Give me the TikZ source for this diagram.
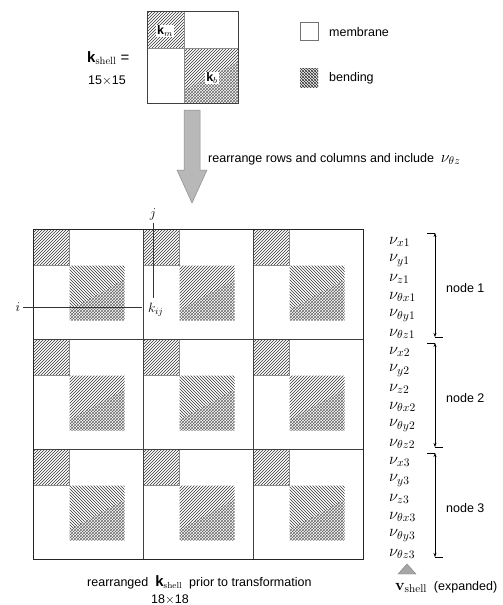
\documentclass[tikz,border=0pt]{standalone}
\usepackage{fix-cm}
\usepackage[no-math]{fontspec}
\setmainfont{Liberation Sans}
\usetikzlibrary{patterns,arrows.meta}
\begin{document}
\begin{tikzpicture}[x=1pt,y=-1pt,
  lab/.style={font=\fontsize{12.5}{14}\selectfont, inner sep=0pt},
  mlab/.style={font=\fontsize{13.5}{15}\selectfont, inner sep=0pt},
  vlab/.style={font=\fontsize{16.5}{18}\selectfont, inner sep=0pt},
  memb/.style={pattern=north east lines, pattern color=black!80},
  xhatch/.style={pattern=crosshatch, pattern color=black!60},
  nwl/.style={pattern=north west lines, pattern color=black!80},
  nel/.style={pattern=north east lines, pattern color=black!80},
  grid/.style={draw=black!75, line width=0.7pt},
  subline/.style={draw=black!45, line width=0.4pt},
  dimarrow/.style={{Stealth[length=4pt,width=3pt]}-{Stealth[length=4pt,width=3pt]}, line width=0.5pt},
  tick/.style={line width=0.5pt}
]
\useasboundingbox (0,0) rectangle (503,605);

% ---------- top 15x15 matrix ----------
\fill[memb] (147,11) rectangle (184,48);
\fill[nel] (184,48) -- (238,48) -- (238,62) -- (184,90) -- cycle;
\fill[xhatch] (238,62) -- (238,103) -- (184,103) -- (184,90) -- cycle;
\draw[subline] (147,48) -- (238,48);
\draw[subline] (184,11) -- (184,103);
\draw[grid, line width=0.9pt] (147,11) rectangle (238,103);
\node[lab, fill=white, inner sep=0.8pt] (km) at (165,31) {\textbf{k}$_m$};
\node[lab, fill=white, inner sep=0.8pt] (kb) at (212,78) {\textbf{k}$_b$};
\node[lab, anchor=west] (kshell) at (87,58) {\fontsize{15}{16}\selectfont\textbf{k}$_{\mathrm{shell}}$ =};
\node[lab, anchor=west] (dim1) at (88,81) {15$\times$15};

% ---------- legend ----------
\draw[draw=black!55, line width=0.5pt] (300,22) rectangle (318,40);
\node[lab, anchor=west] (lmem) at (329,32) {membrane};
\fill[xhatch] (300,68) rectangle (318,87);
\fill[nwl] (300,68) rectangle (318,87);
\node[lab, anchor=west] (lbend) at (329,78) {bending};

% ---------- big arrow ----------
\filldraw[fill=black!28, draw=black!45, line width=0.5pt]
  (184,110) -- (200,110) -- (200,170) -- (207,170) -- (192,203) -- (177,170) -- (184,170) -- cycle;
\node[lab, anchor=west] (rearr) at (208,159) {rearrange rows and columns and include \ {\fontsize{16}{18}\selectfont$\nu_{\theta z}$}};

% ---------- big 18x18 matrix ----------
\foreach \r in {0,1,2}{
  \foreach \c in {0,1,2}{
    \pgfmathsetmacro{\ox}{33+\c*110}
    \pgfmathsetmacro{\oy}{229+\r*110}
    \pgfmathsetmacro{\ax}{\ox+36.67}
    \pgfmathsetmacro{\ay}{\oy+36.67}
    \pgfmathsetmacro{\bx}{\ox+91.67}
    \pgfmathsetmacro{\by}{\oy+91.67}
    \pgfmathsetmacro{\ry}{\ay+14}
    \pgfmathsetmacro{\ly}{\ay+44}
    \pgfmathtruncatemacro{\pty}{mod(\r+\c,2)}
    \fill[memb] (\ox,\oy) rectangle (\ax,\ay);
    \draw[subline] (\ox,\ay) -- (\ax,\ay) -- (\ax,\oy);
    \fill[xhatch] (\bx,\ry) -- (\bx,\by) -- (\ax,\by) -- (\ax,\ly) -- cycle;
    \ifnum\pty=0
      \fill[nwl] (\ax,\ay) -- (\bx,\ay) -- (\bx,\ry) -- (\ax,\ly) -- cycle;
    \else
      \fill[nel] (\ax,\ay) -- (\bx,\ay) -- (\bx,\ry) -- (\ax,\ly) -- cycle;
    \fi
  }
}
\draw[grid] (143,229) -- (143,559);
\draw[grid] (253,229) -- (253,559);
\draw[grid] (33,339) -- (363,339);
\draw[grid] (33,449) -- (363,449);
\draw[draw=black!85, line width=1pt] (33,229) rectangle (363,559);

% i, j, k_ij
\node[mlab] (i) at (18,307) {$i$};
\node[mlab] (j) at (153,214) {$j$};
\node[mlab, anchor=west] (kij) at (148,310) {$k_{ij}$};
\draw[line width=0.6pt, black!80] (i.east) ++(3,0) -- (142,307);
\draw[line width=0.6pt, black!80] (j.south) ++(0,3) -- (153,298);

% ---------- displacement vector labels ----------
\foreach \n in {1,2,3}{
  \pgfmathsetmacro{\base}{229+(\n-1)*110}
  \pgfmathsetmacro{\ya}{\base+9.17+4}
  \pgfmathsetmacro{\yb}{\base+27.5+4}
  \pgfmathsetmacro{\yc}{\base+45.83+4}
  \pgfmathsetmacro{\yd}{\base+64.17+4}
  \pgfmathsetmacro{\ye}{\base+82.5+4}
  \pgfmathsetmacro{\yf}{\base+100.83+4}
  \node[vlab, anchor=west] (vx\n) at (389,\ya) {$\nu_{x\n}$};
  \node[vlab, anchor=west] (vy\n) at (389,\yb) {$\nu_{y\n}$};
  \node[vlab, anchor=west] (vz\n) at (389,\yc) {$\nu_{z\n}$};
  \node[vlab, anchor=west] (vtx\n) at (389,\yd) {$\nu_{\theta x\n}$};
  \node[vlab, anchor=west] (vty\n) at (389,\ye) {$\nu_{\theta y\n}$};
  \node[vlab, anchor=west] (vtz\n) at (389,\yf) {$\nu_{\theta z\n}$};
  \pgfmathsetmacro{\yt}{\base+4}
  \pgfmathsetmacro{\ybt}{\base+108}
  \pgfmathsetmacro{\ym}{\base+59}
  \coordinate (top\n) at (435,\yt);
  \coordinate (bot\n) at (435,\ybt);
  \draw[dimarrow] (top\n) -- (bot\n);
  \draw[tick] (top\n) -- ++(-8,0);
  \draw[tick] (bot\n) -- ++(8,0);
  \node[lab, anchor=west] (node\n) at (446,\ym) {node \n};
}

% v_shell
\filldraw[fill=black!35, draw=black!50, line width=0.4pt] (398,574) -- (407,564) -- (416,574) -- cycle;
\node[lab, anchor=west] (vshell) at (395,587) {{\fontsize{16}{18}\selectfont$\mathbf{v}_{\mathrm{shell}}$}\ \ (expanded)};

% bottom caption
\node[lab, anchor=west] (cap) at (87,582) {rearranged \ {\fontsize{15}{16}\selectfont\textbf{k}}$_{\mathrm{shell}}$ \ prior to transformation};
\node[lab] (dim2) at (170,600) {18$\times$18};
\end{tikzpicture}
\end{document}
